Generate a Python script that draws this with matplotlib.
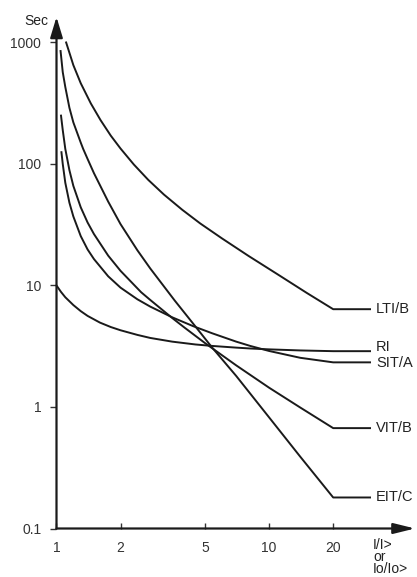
import matplotlib
matplotlib.use("Agg")
import matplotlib.pyplot as plt

plt.rcParams['font.family'] = ['Liberation Sans', 'DejaVu Sans']

# ---- data (I/I> multiple vs. time in seconds) ----
x_lti = [1.11, 1.2, 1.3, 1.45, 1.61, 1.8, 2, 2.31, 2.7, 3.2, 3.9, 4.74, 6, 8, 11, 15, 20]
t_lti = [1000, 651, 462, 315, 230, 171, 134, 99, 74, 56, 42, 32.4, 24.4, 17.5, 12.3, 8.7, 6.38]

x_eit = [1.045, 1.07, 1.1, 1.15, 1.2, 1.3, 1.335, 1.4, 1.5, 1.75, 2, 2.4, 2.76, 3.6, 4.5, 5.38, 7, 10, 14, 20]
t_eit = [850, 570, 430, 290, 220, 150, 133, 110, 84, 49, 32, 19.5, 13.8, 7.5, 4.6, 3.1, 1.8, 0.82, 0.39, 0.18]

x_vit = [1.05, 1.07, 1.1, 1.15, 1.2, 1.3, 1.4, 1.5, 1.75, 2, 2.5, 2.76, 3.5, 4, 5, 7, 10, 14, 20]
t_vit = [250, 190, 133, 89, 66, 44, 33, 26.5, 17.6, 13.2, 8.8, 7.6, 5.4, 4.5, 3.35, 2.2, 1.44, 0.99, 0.67]

x_sit = [1.055, 1.07, 1.1, 1.15, 1.2, 1.3, 1.4, 1.5, 1.75, 2, 2.4, 2.76, 3.5, 4.4, 5.4, 7, 8.15, 10, 14, 20]
t_sit = [125, 100, 70, 48, 37, 25.5, 19.8, 16.5, 11.9, 9.6, 7.7, 6.7, 5.47, 4.62, 4.04, 3.45, 3.18, 2.89, 2.54, 2.33]

x_ri = [1, 1.05, 1.1, 1.2, 1.3, 1.4, 1.6, 1.8, 2, 2.4, 2.76, 3.5, 4.5, 5.4, 7, 8.15, 10, 14, 20]
t_ri = [10, 8.85, 8.0, 6.9, 6.15, 5.62, 4.95, 4.55, 4.28, 3.92, 3.7, 3.45, 3.27, 3.18, 3.08, 3.03, 2.98, 2.92, 2.88]

curve_names = ["LTI/B", "RI", "SIT/A", "VIT/B", "EIT/C"]
x_end = 29.8
x_label = 31.8

y_ticks = [0.1, 1, 10, 100, 1000]
y_ticklabels = ["0.1", "1", "10", "100", "1000"]
x_ticks = [1, 2, 5, 10, 20]
x_ticklabels = ["1", "2", "5", "10", "20"]

# ---- figure ----
W, H = 417, 577
fig = plt.figure(figsize=(W / 100, H / 100), dpi=100)
ax = fig.add_axes([56.5 / W, 48.5 / H, (415 - 56.5) / W, (560 - 48.5) / H])
ax.set_xscale('log')
ax.set_yscale('log')
ax.set_xlim(1, 48.5)
ax.set_ylim(0.1, 1620)

for s in ax.spines.values():
    s.set_visible(False)

series = {
    "LTI/B": (x_lti, t_lti),
    "RI": (x_ri, t_ri),
    "SIT/A": (x_sit, t_sit),
    "VIT/B": (x_vit, t_vit),
    "EIT/C": (x_eit, t_eit),
}
label_dy = {"LTI/B": 0, "RI": 4, "SIT/A": -1, "VIT/B": 0, "EIT/C": 0}

for name in curve_names:
    xs, ys = series[name]
    ax.plot(list(xs) + [x_end], list(ys) + [ys[-1]], color='#1a1a1a', lw=1.4,
            solid_joinstyle='round', clip_on=False)
    ax.annotate(name, xy=(x_label, ys[-1]), xytext=(0, label_dy[name]),
                textcoords='offset pixels', ha='left', va='center',
                fontsize=10.5, color='#222222')

# axes with arrows
ax.annotate('', xy=(0, 1), xytext=(0, 0), xycoords='axes fraction',
            arrowprops=dict(arrowstyle='-|>,head_length=1.25,head_width=0.38',
                            mutation_scale=10, lw=1.6, color='#1a1a1a',
                            shrinkA=0, shrinkB=0))
ax.annotate('', xy=(1, 0), xytext=(0, 0), xycoords='axes fraction',
            arrowprops=dict(arrowstyle='-|>,head_length=1.3,head_width=0.32',
                            mutation_scale=10, lw=1.6, color='#1a1a1a',
                            shrinkA=0, shrinkB=0))

ax.set_yticks(y_ticks)
ax.set_yticklabels(y_ticklabels)
ax.set_xticks(x_ticks)
ax.set_xticklabels(x_ticklabels)
ax.minorticks_off()
ax.tick_params(axis='y', direction='out', length=4, width=1, pad=7,
               labelsize=10, colors='#333333')
ax.tick_params(axis='x', direction='in', length=4, width=1, pad=9,
               labelsize=10, colors='#333333')

fig.text(36 / W, 1 - 21 / H, "Sec", ha='center', va='center', fontsize=10,
         color='#222222')
fig.text(373 / W, 1 - 538 / H, "I/I>\nor\nIo/Io>", ha='left', va='top',
         fontsize=10, color='#222222', linespacing=0.82)

fig.savefig("out.png", dpi=100)
